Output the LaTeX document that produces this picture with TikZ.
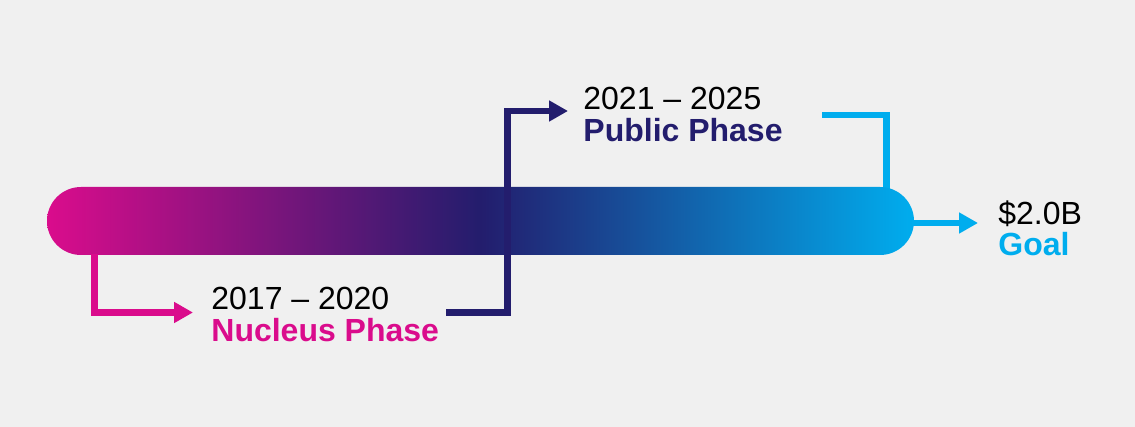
\documentclass[tikz,border=0pt]{standalone}
\usepackage{fontspec}
\setmainfont{Liberation Sans}
\usetikzlibrary{arrows.meta}
\definecolor{nucleuspink}{HTML}{DA0C8C}
\definecolor{publicnavy}{HTML}{231D6D}
\definecolor{goalcyan}{HTML}{00ADEE}
\definecolor{backgrey}{HTML}{F0F0F0}
\tikzset{
  timebar/.style = { rectangle, rounded corners=17pt, inner sep=0pt,
                     minimum width=433.5pt, minimum height=34pt,
                     left color=nucleuspink, right color=goalcyan, middle color=publicnavy },
  link/.style    = { line width=3.25pt, -{Triangle[length=9.5pt, width=10pt]} },
  plainlink/.style = { line width=3.25pt },
  label/.style   = { anchor=north west, inner sep=0pt, align=left,
                     font=\fontsize{16}{15.8}\selectfont }
}
\begin{document}
\begin{tikzpicture}[x=0.5pt, y=-0.5pt]
  \useasboundingbox[fill=backgrey] (0,0) rectangle (1135,427);
  % Draw the bar
  \draw[plainlink, goalcyan] (822,115) -- (886.5,115) -- (886.5,205);
  \node[timebar] (bar) at (480.5,221) {};
  % Draw labels
  \node[label] (nucleus) at (211,287) {2017 -- 2020\\\textbf{\textcolor{nucleuspink}{Nucleus Phase}}};
  \node[label] (public)  at (583,87)  {2021 -- 2025\\\textbf{\textcolor{publicnavy}{Public Phase}}};
  \node[label] (goal)    at (998,200) {\$2.0B\\\textbf{\textcolor{goalcyan}{Goal}}};
  % Draw connectors
  \coordinate (nucTip) at (193,312.5);
  \coordinate (pubTip) at (568,111);
  \coordinate (goalTip) at (978,223);
  \draw[link, nucleuspink] (94.5,254) |- (nucTip);
  \draw[link, publicnavy] (446,312.5) -| (507.5,111) -- (pubTip);
  \draw[link, goalcyan] (bar.east |- goalTip) ++(-2,0) -- (goalTip);
\end{tikzpicture}
\end{document}
